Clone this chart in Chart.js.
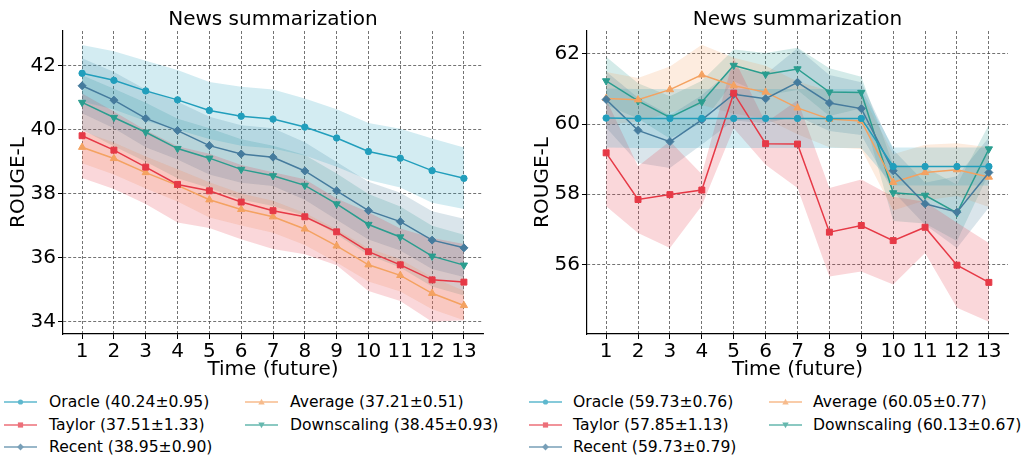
<!DOCTYPE html>
<html>
<head>
<meta charset="utf-8">
<script src="https://cdn.jsdelivr.net/npm/chart.js@4.4.1/dist/chart.umd.min.js"></script>
<style>
  html, body { margin: 0; padding: 0; background: #fff; }
  #wrap { position: relative; width: 1024px; height: 456px; overflow: hidden;
          font-family: 'DejaVu Sans', sans-serif; }
  #wrap canvas { position: absolute; top: 0; }
  .item { position: absolute; height: 22px; display: flex; align-items: center;
          white-space: nowrap; font-size: 15.6px; color: #000; }
  .item svg { position: absolute; left: 0; top: 5px; }
</style>
</head>
<body>
<div id="wrap">
  <canvas id="newsLeft" width="512" height="390" style="left:0"></canvas>
  <canvas id="newsRight" width="512" height="390" style="left:512px"></canvas>
</div>
<script>
// ---- data ----------------------------------------------------------------
const timeSteps = [1, 2, 3, 4, 5, 6, 7, 8, 9, 10, 11, 12, 13];
const methodNames = ['Oracle', 'Taylor', 'Recent', 'Average', 'Downscaling'];
const panelTitle = 'News summarization';

// Left panel: mean ROUGE-L per future time step, and the spread around it
const leftOracle      = [41.76, 41.54, 41.21, 40.93, 40.60, 40.42, 40.33, 40.08, 39.74, 39.32, 39.11, 38.72, 38.48];
const leftOracleStd   = [0.88, 0.91, 0.94, 0.93, 0.89, 0.92, 0.92, 0.89, 0.90, 0.89, 0.92, 1.00, 0.96];
const leftTaylor      = [39.81, 39.36, 38.83, 38.29, 38.09, 37.74, 37.47, 37.28, 36.81, 36.19, 35.78, 35.31, 35.24];
const leftTaylorStd   = [1.32, 1.21, 1.15, 1.19, 1.16, 1.16, 1.20, 1.17, 1.04, 1.23, 1.13, 1.31, 1.19];
const leftRecent      = [41.37, 40.92, 40.35, 39.97, 39.50, 39.24, 39.14, 38.71, 38.09, 37.47, 37.13, 36.55, 36.31];
const leftRecentStd   = [0.86, 0.88, 0.90, 0.90, 0.90, 0.90, 0.90, 0.90, 0.90, 0.90, 0.90, 0.90, 0.91];
const leftAverage     = [39.45, 39.10, 38.66, 38.26, 37.81, 37.51, 37.28, 36.90, 36.37, 35.78, 35.45, 34.89, 34.51];
const leftAverageStd  = [0.50, 0.50, 0.50, 0.50, 0.55, 0.50, 0.50, 0.50, 0.52, 0.52, 0.50, 0.50, 0.46];
const leftDown        = [40.85, 40.38, 39.92, 39.41, 39.11, 38.76, 38.56, 38.26, 37.68, 37.04, 36.65, 36.05, 35.77];
const leftDownStd     = [0.85, 0.90, 0.92, 0.93, 0.93, 0.94, 0.94, 0.95, 0.95, 0.95, 0.95, 0.95, 0.95];

// Right panel
const rightOracle     = [60.17, 60.16, 60.16, 60.16, 60.16, 60.16, 60.16, 60.16, 60.16, 58.79, 58.79, 58.79, 58.79];
const rightOracleStd  = [0.84, 0.84, 0.84, 0.84, 0.84, 0.84, 0.84, 0.84, 0.84, 0.54, 0.54, 0.54, 0.54];
const rightTaylor     = [59.18, 57.85, 57.99, 58.12, 60.88, 59.44, 59.43, 56.92, 57.11, 56.68, 57.06, 55.98, 55.49];
const rightTaylorStd  = [1.52, 0.95, 1.52, 0.45, 1.00, 0.60, 1.25, 1.26, 1.31, 1.25, 0.73, 1.21, 1.12];
const rightRecent     = [60.70, 59.82, 59.50, 60.12, 60.85, 60.72, 61.19, 60.60, 60.44, 58.67, 57.73, 57.49, 58.62];
const rightRecentStd  = [0.80, 0.93, 0.75, 0.70, 0.75, 0.70, 0.97, 0.80, 0.75, 0.60, 0.60, 1.02, 1.00];
const rightAverage    = [60.73, 60.69, 60.98, 61.40, 61.09, 60.91, 60.46, 60.14, 60.09, 58.34, 58.62, 58.70, 58.49];
const rightAverageStd = [0.75, 0.62, 0.66, 0.86, 0.80, 0.75, 0.75, 0.80, 0.80, 0.80, 0.79, 0.75, 0.85];
const rightDown       = [61.23, 60.66, 60.19, 60.63, 61.67, 61.42, 61.57, 60.91, 60.90, 58.04, 57.97, 57.47, 59.29];
const rightDownStd    = [0.69, 0.50, 0.60, 0.60, 0.45, 0.60, 0.60, 0.68, 0.45, 0.80, 0.80, 0.80, 0.69];

// Overall score (mean ± std) reported in each legend
const leftSummaryMean  = [40.24, 37.51, 38.95, 37.21, 38.45];
const leftSummaryStd   = [0.95, 1.33, 0.90, 0.51, 0.93];
const rightSummaryMean = [59.73, 57.85, 59.73, 60.05, 60.13];
const rightSummaryStd  = [0.76, 1.13, 0.79, 0.77, 0.67];

// Axis ticks and ranges
const xTicks = timeSteps;
const leftYTicks  = [34, 36, 38, 40, 42];
const rightYTicks = [56, 58, 60, 62];
const leftYRange  = [33.62, 43.08];
const rightYRange = [54.02, 62.65];

// ---- styling --------------------------------------------------------------
const colors  = ['#219ebc', '#e63946', '#457b9d', '#f4a261', '#2a9d8f'];
const markers = [
  { style: 'circle',   radius: 3.2, rotation: 0 },
  { style: 'rect',     radius: 4.2, rotation: 0 },
  { style: 'rectRot',  radius: 4.0, rotation: 0 },
  { style: 'triangle', radius: 4.2, rotation: 0 },
  { style: 'triangle', radius: 4.2, rotation: 180 }
];

function hexToRgba(hex, a) {
  const n = parseInt(hex.slice(1), 16);
  return `rgba(${(n >> 16) & 255},${(n >> 8) & 255},${n & 255},${a})`;
}

Chart.defaults.font.family = "'DejaVu Sans', sans-serif";
Chart.defaults.color = '#000';

// Panel title centred over the plotting area rather than the whole canvas
const areaTitle = {
  id: 'areaTitle',
  afterDraw(chart, args, opts) {
    const { ctx, chartArea } = chart;
    ctx.save();
    ctx.font = "20px 'DejaVu Sans', sans-serif";
    ctx.fillStyle = '#000';
    ctx.textAlign = 'center';
    ctx.textBaseline = 'middle';
    ctx.fillText(opts.text, (chartArea.left + chartArea.right) / 2, opts.y);
    ctx.restore();
  }
};

function buildDatasets(means, stds) {
  const bands = [], lines = [];
  means.forEach((m, k) => {
    const c = colors[k];
    bands.push({
      data: timeSteps.map((t, i) => ({ x: t, y: m[i] + stds[k][i] })),
      borderWidth: 0, pointRadius: 0, backgroundColor: 'transparent',
      fill: false, order: 10
    });
    bands.push({
      data: timeSteps.map((t, i) => ({ x: t, y: m[i] - stds[k][i] })),
      borderWidth: 0, pointRadius: 0, backgroundColor: hexToRgba(c, 0.2),
      fill: '-1', order: 10
    });
  });
  means.forEach((m, k) => {
    const c = colors[k];
    lines.push({
      data: timeSteps.map((t, i) => ({ x: t, y: m[i] })),
      borderColor: c, backgroundColor: c, borderWidth: 1.5,
      pointStyle: markers[k].style, pointRadius: markers[k].radius,
      pointRotation: markers[k].rotation,
      pointBackgroundColor: c, pointBorderColor: c, pointBorderWidth: 1,
      fill: false, tension: 0, order: 1
    });
  });
  return bands.concat(lines);
}

function makePanel(canvasId, means, stds, yTicks, yRange, yAxisWidth, yTitlePad, padRight) {
  const grid = {
    color: 'rgba(60,60,60,0.8)', lineWidth: 0.9,
    tickColor: '#000', tickLength: 5, tickWidth: 1, tickBorderDash: []
  };
  const border = { display: true, color: '#000', width: 1.2, dash: [3, 2] };
  return new Chart(document.getElementById(canvasId), {
    type: 'line',
    data: { datasets: buildDatasets(means, stds) },
    plugins: [areaTitle],
    options: {
      responsive: false, animation: false, events: [],
      layout: { padding: { left: 0, top: 31, right: padRight, bottom: 0 } },
      plugins: {
        legend: { display: false },
        tooltip: { enabled: false },
        title: { display: false },
        areaTitle: { text: panelTitle, y: 20 }
      },
      scales: {
        x: {
          type: 'linear', min: 0.4, max: 13.6,
          afterBuildTicks: s => { s.ticks = xTicks.map(v => ({ value: v })); },
          afterFit: s => { s.height = 56; },
          ticks: { font: { size: 20 }, color: '#000', padding: 1, maxRotation: 0 },
          grid: grid,
          border: border,
          title: { display: true, text: 'Time (future)', color: '#000',
                   font: { size: 20 }, padding: { top: 0, bottom: 8 } }
        },
        y: {
          type: 'linear', min: yRange[0], max: yRange[1],
          afterBuildTicks: s => { s.ticks = yTicks.map(v => ({ value: v })); },
          afterFit: s => { s.width = yAxisWidth; },
          ticks: { font: { size: 20 }, color: '#000', padding: 2 },
          grid: grid,
          border: border,
          title: { display: true, text: 'ROUGE-L', color: '#000',
                   font: { size: 20 }, padding: { top: yTitlePad, bottom: 0 } }
        }
      }
    }
  });
}

makePanel('newsLeft',
  [leftOracle, leftTaylor, leftRecent, leftAverage, leftDown],
  [leftOracleStd, leftTaylorStd, leftRecentStd, leftAverageStd, leftDownStd],
  leftYTicks, leftYRange, 63, 7, 29);

makePanel('newsRight',
  [rightOracle, rightTaylor, rightRecent, rightAverage, rightDown],
  [rightOracleStd, rightTaylorStd, rightRecentStd, rightAverageStd, rightDownStd],
  rightYTicks, rightYRange, 75, 19, 16);

// ---- legends (two columns under each panel) -------------------------------
function markerSvg(k) {
  const c = colors[k];
  const cx = 16.5, cy = 6;
  let shape;
  switch (k) {
    case 0: shape = `<circle cx="${cx}" cy="${cy}" r="2.6" fill="${c}"/>`; break;
    case 1: shape = `<rect x="${cx - 2.6}" y="${cy - 2.6}" width="5.2" height="5.2" fill="${c}"/>`; break;
    case 2: shape = `<polygon points="${cx},${cy - 3.4} ${cx + 3.4},${cy} ${cx},${cy + 3.4} ${cx - 3.4},${cy}" fill="${c}"/>`; break;
    case 3: shape = `<polygon points="${cx},${cy - 3.2} ${cx + 3.2},${cy + 2.4} ${cx - 3.2},${cy + 2.4}" fill="${c}"/>`; break;
    default: shape = `<polygon points="${cx},${cy + 3.2} ${cx + 3.2},${cy - 2.4} ${cx - 3.2},${cy - 2.4}" fill="${c}"/>`;
  }
  return `<svg width="33" height="12" style="opacity:0.72"><line x1="0" y1="${cy}" x2="33" y2="${cy}" stroke="${c}" stroke-width="1.6"/>${shape}</svg>`;
}

function makeLegend(summaryMean, summaryStd, colX, textGap) {
  const wrap = document.getElementById('wrap');
  const rowTop = [391, 413.5, 436];
  methodNames.forEach((name, k) => {
    const col = k < 3 ? 0 : 1;
    const row = k < 3 ? k : k - 3;
    const el = document.createElement('div');
    el.className = 'item';
    el.style.left = colX[col] + 'px';
    el.style.top = rowTop[row] + 'px';
    el.innerHTML = markerSvg(k) +
      `<span style="margin-left:${textGap}px">${name} (${summaryMean[k].toFixed(2)}±${summaryStd[k].toFixed(2)})</span>`;
    wrap.appendChild(el);
  });
}

makeLegend(leftSummaryMean, leftSummaryStd, [4, 245], 45);
makeLegend(rightSummaryMean, rightSummaryStd, [529, 769], 44);
</script>
</body>
</html>
